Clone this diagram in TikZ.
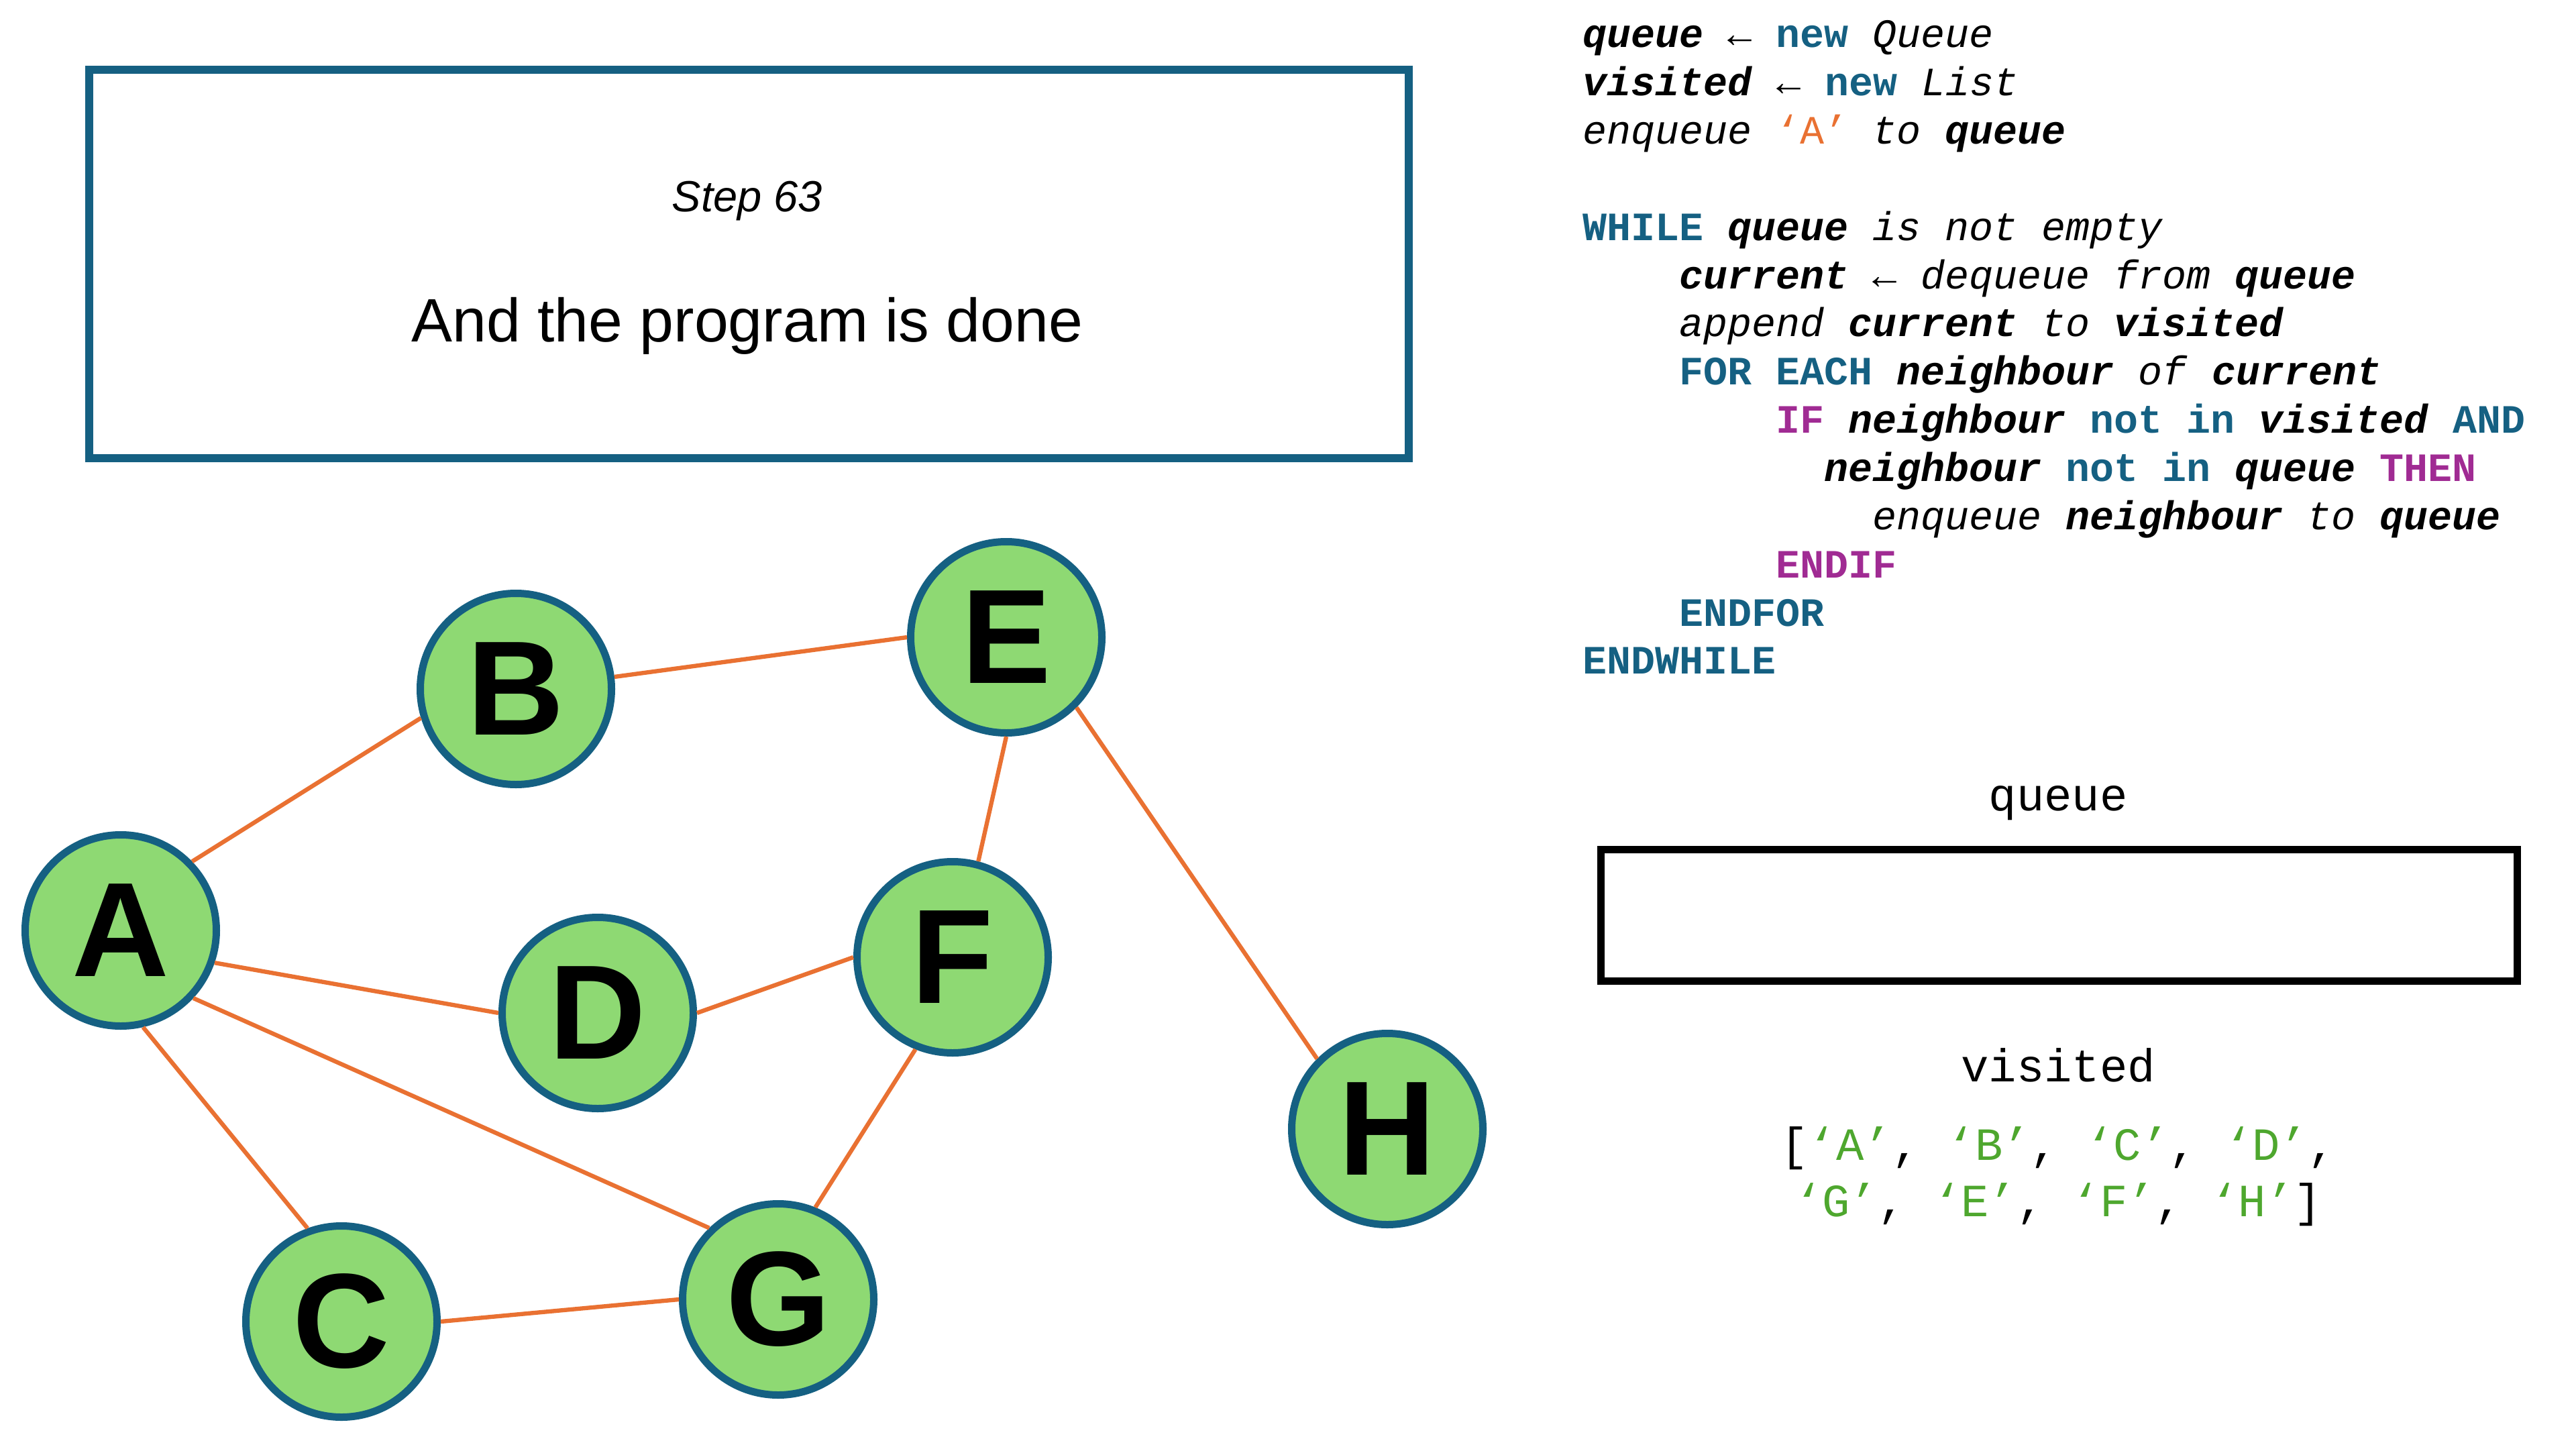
\documentclass[tikz,border=0pt]{standalone}
\usepackage{fontspec}
\setmainfont{Liberation Sans}
\newfontfamily\codefont{Liberation Mono}
\usepackage{tikz}
\definecolor{nodeblue}{HTML}{156082}
\definecolor{nodegreen}{HTML}{8ED973}
\definecolor{edgeorange}{HTML}{E97132}
\definecolor{keypurple}{HTML}{A02B93}
\definecolor{listgreen}{HTML}{4EA72E}
\usetikzlibrary{shapes.geometric, arrows}
\tikzstyle{vertex} = [circle, draw=nodeblue, fill=nodegreen, line width=0.11cm,
minimum size=2.85cm, inner sep=0pt, font=\fontsize{57}{60}\selectfont\bfseries]
\tikzstyle{edge} = [draw=edgeorange, line width=1.8pt]
\tikzstyle{stepframe} = [rectangle, draw=nodeblue, line width=0.12cm, minimum width=19.67cm, minimum height=5.79cm]
\tikzstyle{queueframe} = [rectangle, draw=black, line width=0.11cm, minimum width=13.66cm, minimum height=1.96cm]
\tikzstyle{codeline} = [anchor=base west, inner sep=0pt, font=\codefont\fontsize{17.07}{20}\selectfont]
\tikzstyle{monotitle} = [anchor=base, inner sep=0pt, font=\codefont\fontsize{19.6}{23.9}\selectfont]
\newcommand{\kw}[1]{\textcolor{nodeblue}{\textbf{#1}}}
\newcommand{\ctl}[1]{\textcolor{keypurple}{\textbf{#1}}}
\newcommand{\pvar}[1]{\textbf{\textit{#1}}}
\newcommand{\ptxt}[1]{\textit{#1}}
\newcommand{\vis}[1]{\textcolor{listgreen}{‘#1’}}

\begin{document}
\begin{tikzpicture}
	\useasboundingbox (0,0) rectangle (38.4,-21.6);
	% step box
	\node (StepBox) [stepframe] at (11.165,-3.935) {};
	\node (StepTitle) [anchor=base, inner sep=0pt, font=\fontsize{18.5}{22}\selectfont\itshape] at (11.14,-3.16) {Step 63};
	\node (StepText) [anchor=base, inner sep=0pt, font=\fontsize{26}{30}\selectfont] at (11.14,-5.10) {And the program is done};

	% graph
	\node (A) [vertex] at (1.80,-13.87) {A};
	\node (B) [vertex] at (7.69,-10.27) {B};
	\node (C) [vertex] at (5.09,-19.70) {C};
	\node (D) [vertex] at (8.91,-15.10) {D};
	\node (E) [vertex] at (15.00,-9.50) {E};
	\node (F) [vertex] at (14.20,-14.27) {F};
	\node (G) [vertex] at (11.60,-19.37) {G};
	\node (H) [vertex] at (20.68,-16.83) {H};

	\draw [edge] (A.44) -- (B.197);
	\draw [edge] (A.-19) -- (D.180);
	\draw [edge] (A.-43) -- (G.134);
	\draw [edge] (A.-77) -- (C.110);
	\draw [edge] (B.7) -- (E.180);
	\draw [edge] (D.0) -- (F.180);
	\draw [edge] (E.-90) -- (F.75);
	\draw [edge] (E.-45) -- (H.135);
	\draw [edge] (F.-112) -- (G.68);
	\draw [edge] (C.0) -- (G.180);

	% pseudocode
	\node (Code1) [codeline] at (23.59,-0.71) {\pvar{queue} ← \kw{new} \ptxt{Queue}};
	\node (Code2) [codeline] at (23.59,-1.428) {\pvar{visited} ← \kw{new} \ptxt{List}};
	\node (Code3) [codeline] at (23.59,-2.147) {\ptxt{enqueue} \textcolor{edgeorange}{‘A’} \ptxt{to} \pvar{queue}};
	\node (Code4) [codeline] at (23.59,-3.583) {\kw{WHILE} \pvar{queue} \ptxt{is not empty}};
	\node (Code5) [codeline] at (25.03,-4.302) {\pvar{current} ← \ptxt{dequeue from} \pvar{queue}};
	\node (Code6) [codeline] at (25.03,-5.020) {\ptxt{append} \pvar{current} \ptxt{to} \pvar{visited}};
	\node (Code7) [codeline] at (25.03,-5.738) {\kw{FOR EACH} \pvar{neighbour} \ptxt{of} \pvar{current}};
	\node (Code8) [codeline] at (26.47,-6.456) {\ctl{IF} \pvar{neighbour} \kw{not in} \pvar{visited} \kw{AND}};
	\node (Code9) [codeline] at (27.19,-7.175) {\pvar{neighbour} \kw{not in} \pvar{queue} \ctl{THEN}};
	\node (Code10) [codeline] at (27.91,-7.893) {\ptxt{enqueue} \pvar{neighbour} \ptxt{to} \pvar{queue}};
	\node (Code11) [codeline] at (26.47,-8.611) {\ctl{ENDIF}};
	\node (Code12) [codeline] at (25.03,-9.330) {\kw{ENDFOR}};
	\node (Code13) [codeline] at (23.59,-10.048) {\kw{ENDWHILE}};

	% queue and visited
	\node (QueueLabel) [monotitle] at (30.68,-12.08) {queue};
	\node (QueueBox) [queueframe] at (30.69,-13.64) {};
	\node (VisitedLabel) [monotitle] at (30.68,-16.12) {visited};
	\node (VisitedList) [monotitle, align=center] at (30.68,-18.13) {[\vis{A}, \vis{B}, \vis{C}, \vis{D},\\ \vis{G}, \vis{E}, \vis{F}, \vis{H}]};
\end{tikzpicture}
\end{document}
